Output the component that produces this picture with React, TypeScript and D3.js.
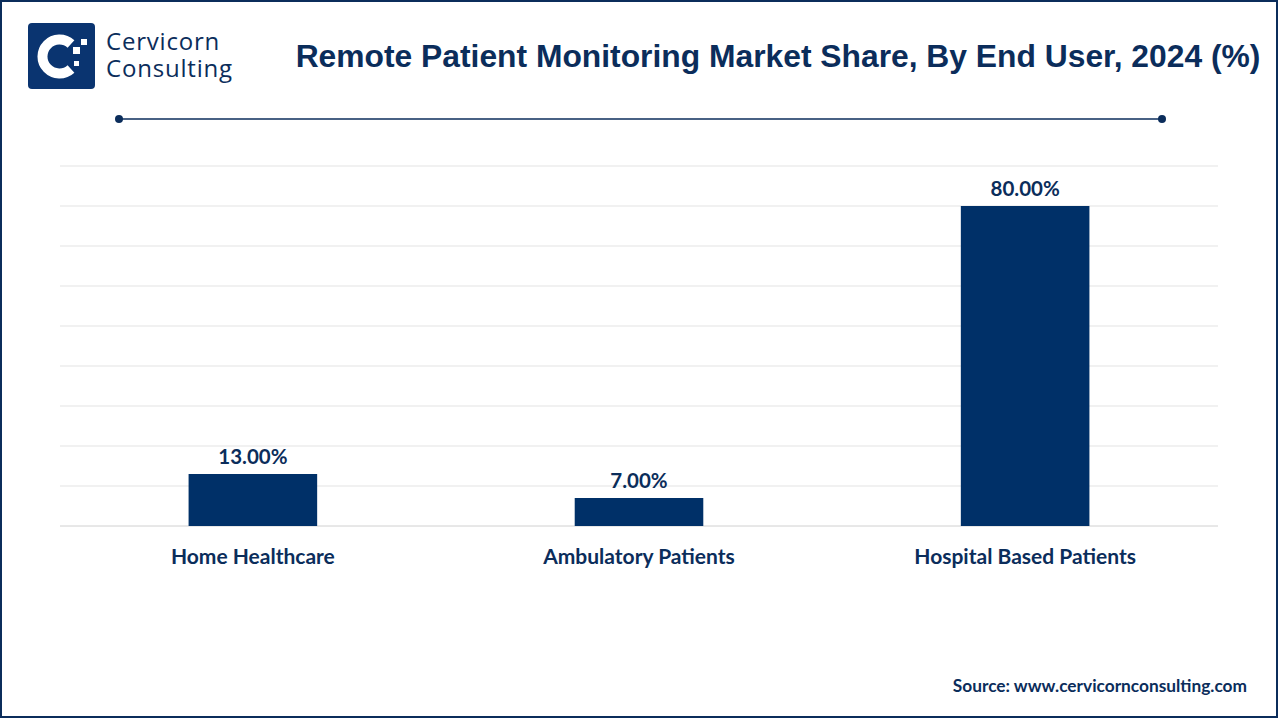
import React from "react";
import * as d3 from "d3";

const categories = ["Home Healthcare", "Ambulatory Patients", "Hospital Based Patients"];
const values = [13, 7, 80];
const yTicks = [0, 10, 20, 30, 40, 50, 60, 70, 80, 90];
const title = "Remote Patient Monitoring Market Share, By End User, 2024 (%)";
const source = "Source: www.cervicornconsulting.com";

const W = 1280;
const H = 720;
const NAVY = "#0b2d5b";
const BAR = "#003068";

export default function App() {
  const x = d3.scaleBand<string>().domain(categories).range([60, 1218]).paddingInner(0.667).paddingOuter(0.333);
  const y = d3.scaleLinear().domain([0, 90]).range([526, 166]);
  const fontLabel = "Lato, 'Open Sans', sans-serif";
  return (
    <svg width={W} height={H} style={{ position: "fixed", left: 0, top: 0, background: "#fff" }}>
      <rect x={1} y={1} width={W - 4} height={H - 4} fill="#fff" stroke={NAVY} strokeWidth={2} />
      {/* logo */}
      <rect x={28} y={23} width={67} height={66} rx={4} fill="#0a3470" />
      <path d="M 71 44 A 17 17 0 1 0 71 69" fill="none" stroke="#fff" strokeWidth={10} />
      <rect x={73} y={47} width={7} height={7} fill="#fff" />
      <rect x={81} y={39} width={6} height={6} fill="#fff" />
      <rect x={74} y={61} width={5} height={5} fill="#fff" />
      <text x={106} y={50} fontFamily="'Open Sans', sans-serif" fontSize={24} letterSpacing={0.8} fill={NAVY}>Cervicorn</text>
      <text x={106} y={77} fontFamily="'Open Sans', sans-serif" fontSize={24} letterSpacing={0.8} fill={NAVY}>Consulting</text>
      <text x={778} y={67} textAnchor="middle" fontFamily="'Liberation Sans', Arial, sans-serif" fontWeight="bold" fontSize={31.8} fill={NAVY}>{title}</text>
      <line x1={119} x2={1162} y1={119} y2={119} stroke={NAVY} strokeWidth={1.5} />
      <circle cx={119} cy={119} r={4} fill={NAVY} />
      <circle cx={1162} cy={119} r={4} fill={NAVY} />
      {yTicks.map((t) => (
        <line key={t} x1={60} x2={1218} y1={y(t)} y2={y(t)} stroke={t === 0 ? "#d0d0d0" : "#e3e3e3"} strokeWidth={1} />
      ))}
      {categories.map((c, i) => (
        <g key={c}>
          <rect x={x(c)} y={y(values[i])} width={x.bandwidth()} height={y(0) - y(values[i])} fill={BAR} />
          <text x={(x(c) as number) + x.bandwidth() / 2} y={y(values[i]) - 10} textAnchor="middle" fontFamily={fontLabel} fontWeight="bold" fontSize={20.5} fill={NAVY}>
            {values[i].toFixed(2) + "%"}
          </text>
          <text x={(x(c) as number) + x.bandwidth() / 2} y={564} textAnchor="middle" fontFamily={fontLabel} fontWeight="bold" fontSize={21} fill={NAVY}>
            {c}
          </text>
        </g>
      ))}
      <text x={1247} y={692} textAnchor="end" fontFamily={fontLabel} fontWeight="bold" fontSize={17.3} fill={NAVY}>{source}</text>
    </svg>
  );
}
